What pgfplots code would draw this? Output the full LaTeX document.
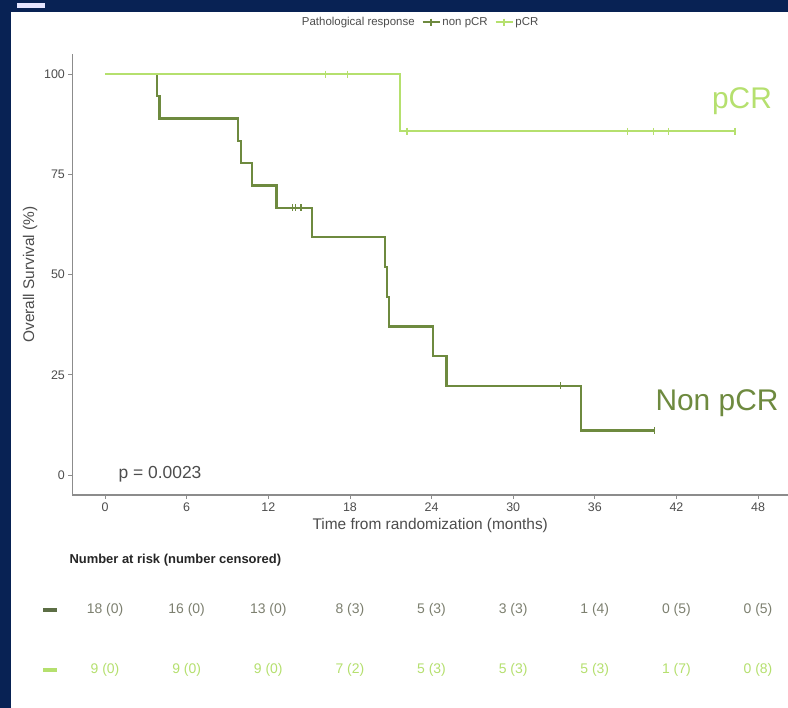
\documentclass[border=0pt]{standalone}
\usepackage{pgfplots}
\pgfplotsset{compat=1.18}
\usepackage{fontspec}
\setmainfont{Liberation Sans}
\definecolor{navy}{HTML}{082254}
\definecolor{npcr}{HTML}{6E8A3F}
\definecolor{npcrdark}{HTML}{5C6E45}
\definecolor{pcr}{HTML}{B5E06E}
\definecolor{axgray}{HTML}{8C8C8C}
\definecolor{txtgray}{HTML}{4D4D4D}
\definecolor{riskgray}{HTML}{7D8070}

\pgfplotstableread{
t s
0 100
3.8 94.44
4.0 88.89
9.8 83.33
10.0 77.78
10.8 72.22
12.6 66.67
15.2 59.26
20.6 51.85
20.75 44.44
20.9 37.04
24.1 29.63
25.1 22.22
35.0 11.11
40.4 11.11
}\nonpcr
\pgfplotstableread{
t s
13.8 66.67
14.0 66.67
14.4 66.67
33.5 22.22
40.4 11.11
}\nonpcrcens
\pgfplotstableread{
t s
0 100
21.7 85.71
46.3 85.71
}\pcr
\pgfplotstableread{
t s
16.2 100
17.8 100
22.2 85.71
38.4 85.71
40.3 85.71
41.4 85.71
46.3 85.71
}\pcrcens

\begin{document}
\begin{tikzpicture}[x=1bp,y=1bp]
\fill[navy] (0,0) rectangle (788,708);
\fill[white] (11,0) rectangle (788,696);
\fill[blue!10!white] (17,700) rectangle (45,705);
\path[use as bounding box] (0,0) rectangle (788,708);
\begin{axis}[
 at={(72.4bp,213bp)}, anchor=south west,
 scale only axis, width=715.6bp, height=441bp,
 xmin=-2.4, xmax=50.2, ymin=-5, ymax=105,
 axis x line*=bottom, axis y line*=left,
 axis line style={axgray, line width=1.2bp},
 xtick={0,6,...,48}, ytick={0,25,50,75,100},
 tick align=outside, major tick length=4bp,
 tick style={axgray, line width=0.8bp},
 tick label style={font=\fontsize{12.5}{14}\selectfont, text=txtgray},
 /pgf/number format/assume math mode=true,
 xlabel={Time from randomization (months)},
 ylabel={Overall Survival (\%)},
 label style={font=\fontsize{15.5}{18}\selectfont, text=txtgray},
 legend columns=3,
 legend style={at={(0.486,1.072)}, anchor=center, draw=none, fill=none,
   font=\fontsize{11.5}{13}\selectfont, text=txtgray,
   /tikz/every even column/.append style={column sep=5bp}},
 legend cell align=left,
]
\addlegendimage{empty legend}
\addlegendentry{Pathological response}
\addlegendimage{npcr, line width=1.8bp, mark=|, mark size=3.5bp}
\addlegendentry{non pCR}
\addlegendimage{pcr, line width=1.8bp, mark=|, mark size=3.5bp}
\addlegendentry{pCR}

\addplot[npcr, line width=2.2bp, const plot, forget plot] table[x=t,y=s] {\nonpcr};
\addplot[npcr, only marks, mark=|, mark size=3.5bp, mark options={line width=1.2bp}, forget plot] table[x=t,y=s] {\nonpcrcens};
\addplot[pcr, line width=2bp, const plot, forget plot] table[x=t,y=s] {\pcr};
\addplot[pcr, only marks, mark=|, mark size=3.5bp, mark options={line width=1.2bp}, forget plot] table[x=t,y=s] {\pcrcens};
\end{axis}

\node[text=pcr, font=\fontsize{30}{36}\selectfont] at (742,607) {pCR};
\node[text=npcr, font=\fontsize{30}{36}\selectfont] at (717,305) {Non pCR};
\node[text=txtgray, font=\fontsize{17.5}{20}\selectfont] at (160,234) {p = 0.0023};

\node[anchor=west, font=\bfseries\fontsize{13}{15}\selectfont, text=black!85] at (66,148) {Number at risk (number censored)};

\fill[npcrdark] (43,96) rectangle (57,100);
\fill[pcr] (43,36) rectangle (57,40);
\foreach \v [count=\i from 0] in {18 (0),16 (0),13 (0),8 (3),5 (3),3 (3),1 (4),0 (5),0 (5)}
  \node[text=riskgray, font=\fontsize{14}{16}\selectfont] at (105+81.63*\i,98) {\v};
\foreach \v [count=\i from 0] in {9 (0),9 (0),9 (0),7 (2),5 (3),5 (3),5 (3),1 (7),0 (8)}
  \node[text=pcr, font=\fontsize{14}{16}\selectfont] at (105+81.63*\i,38) {\v};
\end{tikzpicture}
\end{document}
